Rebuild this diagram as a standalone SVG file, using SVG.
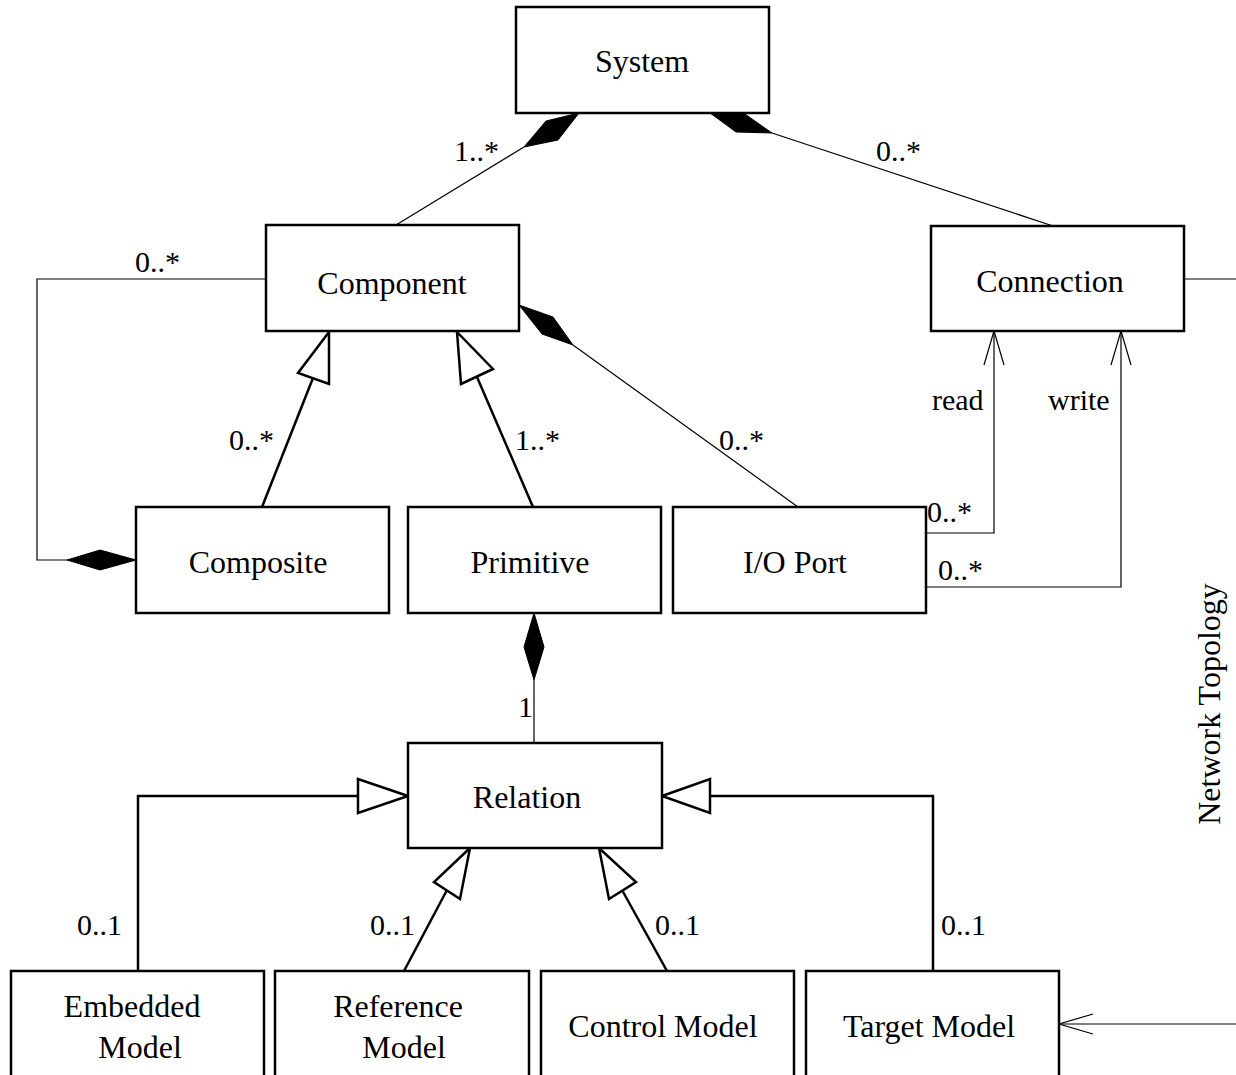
<svg xmlns="http://www.w3.org/2000/svg" width="1236" height="1075" viewBox="0 0 1236 1075">
<style>
.box{fill:#fff;stroke:#000;stroke-width:2.5}
.t{font-family:"Liberation Serif","Times New Roman",serif;font-size:32px;fill:#000;text-anchor:middle}
.l{font-family:"Liberation Serif","Times New Roman",serif;font-size:30px;fill:#000}
.thin{fill:none;stroke:#000;stroke-width:1.2}
.gen{fill:none;stroke:#000;stroke-width:2.5}
.tri{fill:#fff;stroke:#000;stroke-width:2.5;stroke-linejoin:miter}
.dia{fill:#000;stroke:#000;stroke-width:1}
</style>
<rect width="1236" height="1075" fill="#fff"/>
<g id="connectors">
  <!-- System - Component -->
  <line class="thin" x1="396" y1="225" x2="524" y2="147"/>
  <polygon class="dia" points="524,147 558,140 579,113 546,121"/>
  <!-- System - Connection -->
  <line class="thin" x1="1053" y1="226" x2="772" y2="133"/>
  <polygon class="dia" points="772,133 742,112 706,110 736,132"/>
  <!-- Component - Composite loop -->
  <polyline class="thin" points="266,279 37,279 37,560 67,560"/>
  <polygon class="dia" points="67,560 100,550 136,560 100,570"/>
  <!-- Composite generalization -->
  <line class="gen" x1="262" y1="507" x2="313" y2="378"/>
  <polygon class="tri" points="329,332 298,373 329,384"/>
  <!-- Primitive generalization -->
  <line class="gen" x1="533" y1="507" x2="477" y2="377"/>
  <polygon class="tri" points="457,332 461,384 493,369"/>
  <!-- I/O Port - Component composition -->
  <line class="thin" x1="798" y1="507" x2="573" y2="345"/>
  <polygon class="dia" points="573,345 542,334 519,305 553,317"/>
  <!-- read -->
  <polyline class="thin" points="926,533 994,533 994,331"/>
  <polyline class="thin" points="984,365 994,331 1004,365"/>
  <!-- write -->
  <polyline class="thin" points="926,587 1121,587 1121,331"/>
  <polyline class="thin" points="1111,365 1121,331 1131,365"/>
  <!-- Connection to right -->
  <line class="thin" x1="1184" y1="279" x2="1236" y2="279"/>
  <!-- Primitive - Relation -->
  <line class="thin" x1="534" y1="680" x2="534" y2="743"/>
  <polygon class="dia" points="534,613 544,647 534,680 524,647"/>
  <!-- Embedded -> Relation -->
  <polyline class="gen" points="138,971 138,796 358,796"/>
  <polygon class="tri" points="408,796 358,779 358,813"/>
  <!-- Reference -> Relation -->
  <line class="gen" x1="404" y1="971" x2="447" y2="890"/>
  <polygon class="tri" points="470,848 434,882 460,899"/>
  <!-- Control -> Relation -->
  <line class="gen" x1="667" y1="971" x2="622" y2="890"/>
  <polygon class="tri" points="599,848 609,899 636,882"/>
  <!-- Target -> Relation -->
  <polyline class="gen" points="933,971 933,796 710,796"/>
  <polygon class="tri" points="662,796 710,779 710,813"/>
  <!-- right -> Target Model -->
  <line class="thin" x1="1236" y1="1024" x2="1059" y2="1024"/>
  <polyline class="thin" points="1093,1014 1059,1024 1093,1034"/>
</g>
<g id="labels">
  <text class="l" x="454" y="161">1..*</text>
  <text class="l" x="876" y="161">0..*</text>
  <text class="l" x="135" y="272">0..*</text>
  <text class="l" x="229" y="450">0..*</text>
  <text class="l" x="515" y="450">1..*</text>
  <text class="l" x="719" y="450">0..*</text>
  <text class="l" x="932" y="410">read</text>
  <text class="l" x="1048" y="410">write</text>
  <text class="l" x="927" y="522">0..*</text>
  <text class="l" x="938" y="580">0..*</text>
  <text class="l" x="518" y="717">1</text>
  <text class="l" x="77" y="935">0..1</text>
  <text class="l" x="370" y="935">0..1</text>
  <text class="l" x="655" y="935">0..1</text>
  <text class="l" x="941" y="935">0..1</text>
  <text class="t" transform="translate(1220,704) rotate(-90)" x="0" y="0">Network Topology</text>
</g>
<g id="system"><rect class="box" x="516" y="7" width="253" height="106"/><text class="t" x="642" y="72">System</text></g>
<g id="component"><rect class="box" x="266" y="225" width="253" height="106"/><text class="t" x="392" y="294">Component</text></g>
<g id="connection"><rect class="box" x="931" y="226" width="253" height="105"/><text class="t" x="1050" y="292">Connection</text></g>
<g id="composite"><rect class="box" x="136" y="507" width="253" height="106"/><text class="t" x="258" y="573">Composite</text></g>
<g id="primitive"><rect class="box" x="408" y="507" width="253" height="106"/><text class="t" x="530" y="573">Primitive</text></g>
<g id="ioport"><rect class="box" x="673" y="507" width="253" height="106"/><text class="t" x="795" y="573">I/O Port</text></g>
<g id="relation"><rect class="box" x="408" y="743" width="254" height="105"/><text class="t" x="527" y="808">Relation</text></g>
<g id="embedded"><rect class="box" x="11" y="971" width="253" height="120"/><text class="t" x="132" y="1017">Embedded</text><text class="t" x="140" y="1058">Model</text></g>
<g id="reference"><rect class="box" x="275" y="971" width="254" height="120"/><text class="t" x="398" y="1017">Reference</text><text class="t" x="404" y="1058">Model</text></g>
<g id="control"><rect class="box" x="541" y="971" width="253" height="120"/><text class="t" x="663" y="1037">Control Model</text></g>
<g id="target"><rect class="box" x="806" y="971" width="253" height="120"/><text class="t" x="929" y="1037">Target Model</text></g>
</svg>
